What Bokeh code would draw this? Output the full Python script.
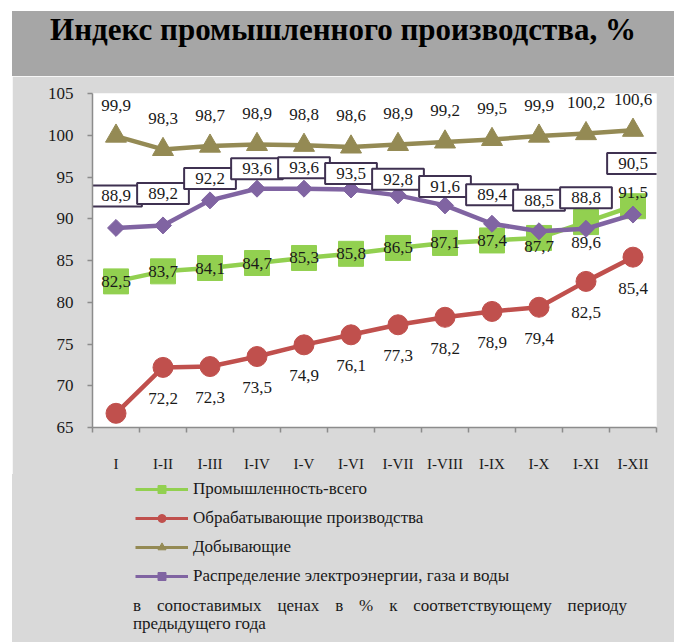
from bokeh.plotting import figure
from bokeh.models import ColumnDataSource, Range1d, FixedTicker, Legend, LegendItem, Div
from bokeh.layouts import column
from bokeh.core.properties import value
from bokeh.embed import file_html
from bokeh.resources import INLINE

# ---- data ----
categories = ["I", "I-II", "I-III", "I-IV", "I-V", "I-VI", "I-VII", "I-VIII",
              "I-IX", "I-X", "I-XI", "I-XII"]
industry_total = [82.5, 83.7, 84.1, 84.7, 85.3, 85.8, 86.5, 87.1, 87.4, 87.7, 89.6, 91.5]
manufacturing = [66.7, 72.2, 72.3, 73.5, 74.9, 76.1, 77.3, 78.2, 78.9, 79.4, 82.5, 85.4]
mining = [99.9, 98.3, 98.7, 98.9, 98.8, 98.6, 98.9, 99.2, 99.5, 99.9, 100.2, 100.6]
utilities = [88.9, 89.2, 92.2, 93.6, 93.6, 93.5, 92.8, 91.6, 89.4, 88.5, 88.8, 90.5]
y_ticks = [65, 70, 75, 80, 85, 90, 95, 100, 105]

series_names = ["Промышленность-всего", "Обрабатывающие производства",
                "Добывающие", "Распределение электроэнергии, газа и воды"]
title_text = "Индекс промышленного производства, %"
note_text = "в сопоставимых ценах в % к соответствующему периоду предыдущего года"

# ---- label placement (screen px, + = down) ----
total_dy = [0, 0, 0, 0, 0, 0, 0, 0, 0, 9, 20, -14]
manuf_dy = [31] * 12
mining_dy = [-31] * 12
util_dy = [-32, -32, -22, -20, -21, -16, -16, -19, -29, -31, -31, -51]

GREEN, RED, OLIVE, PURPLE = "#92D050", "#C0504D", "#948A54", "#8064A2"
BOX = "#3F3151"
TXT = "#1a1a1a"
BG = "#D9D9D9"
LBL_FONT = "Liberation Serif"

xs = list(range(len(categories)))
fmt = lambda v: f"{v:.1f}".replace(".", ",")


def src(vals, dy):
    return ColumnDataSource(dict(x=xs, y=vals, lbl=[fmt(v) for v in vals], dy=dy))


s_total = src(industry_total, total_dy)
s_manuf = src(manufacturing, manuf_dy)
s_mining = src(mining, mining_dy)
s_util = src(utilities, util_dy)

p = figure(width=662, height=398, output_backend="svg", toolbar_location=None,
           x_range=Range1d(-0.5, len(categories) - 0.5),
           y_range=Range1d(y_ticks[0], y_ticks[-1]),
           min_border_left=80, min_border_right=18, min_border_top=17,
           min_border_bottom=46, margin=(0, 0, 0, 12))
p.background_fill_color = "white"
p.border_fill_color = BG
p.outline_line_color = None
p.grid.visible = False

# axes
AX = "#8C8C8C"
p.yaxis.ticker = FixedTicker(ticks=y_ticks)
p.yaxis.axis_line_color = AX
p.yaxis.axis_line_width = 1.5
p.yaxis.major_tick_line_color = AX
p.yaxis.major_tick_line_width = 1.5
p.yaxis.major_tick_out = 5
p.yaxis.major_tick_in = 0
p.yaxis.minor_tick_line_color = None
p.yaxis.major_label_standoff = 14
p.yaxis.major_label_text_font = LBL_FONT
p.yaxis.major_label_text_font_size = "17px"
p.yaxis.major_label_text_color = TXT

p.xaxis.ticker = FixedTicker(ticks=xs, minor_ticks=[i - 0.5 for i in range(len(categories) + 1)])
p.xaxis.major_label_overrides = {i: c for i, c in enumerate(categories)}
p.xaxis.axis_line_color = AX
p.xaxis.axis_line_width = 1.5
p.xaxis.major_tick_line_color = None
p.xaxis.major_tick_out = 0
p.xaxis.major_tick_in = 0
p.xaxis.minor_tick_line_color = AX
p.xaxis.minor_tick_line_width = 1.5
p.xaxis.minor_tick_out = 5
p.xaxis.minor_tick_in = 0
p.xaxis.major_label_standoff = 23
p.xaxis.major_label_text_font = "Liberation Serif"
p.xaxis.major_label_text_font_size = "15px"
p.xaxis.major_label_text_color = TXT

# legend panel (separate figure so the legend is not clipped by the main frame)
pl = figure(width=662, height=123, output_backend="svg", toolbar_location=None,
            x_range=Range1d(-100, -99), y_range=Range1d(-100, -99),
            x_axis_type=None, y_axis_type=None,
            min_border_left=80, min_border_right=18, min_border_top=0,
            min_border_bottom=0, margin=(0, 0, 0, 12),
            styles={"background-color": BG})
pl.background_fill_color = BG
pl.border_fill_color = BG
pl.outline_line_color = None
pl.grid.visible = False

LW = 4.5
legend_items = []
specs = [
    (s_total, GREEN, dict(marker="square", size=25)),
    (s_manuf, RED, dict(marker="circle", size=20)),
    (s_mining, OLIVE, dict(marker="triangle", size=21)),
    (s_util, PURPLE, dict(marker="square", size=12, angle=0.785398)),
]
for (s, col, mk), name in zip(specs, series_names):
    p.line("x", "y", source=s, line_color=col, line_width=LW)
    p.scatter("x", "y", source=s, fill_color=col, line_color=col, **mk)
    ln = pl.line("x", "y", source=s, line_color=col, line_width=3)
    sc = pl.scatter("x", "y", source=s, fill_color=col, line_color=col, **mk)
    legend_items.append(LegendItem(label=name, renderers=[ln, sc]))

# data labels
common = dict(x="x", y="y", text="lbl", y_offset="dy", text_align="center",
              text_baseline="middle", text_font=value(LBL_FONT),
              text_font_size="17px", text_color=TXT)
p.text(source=s_total, **common)
p.text(source=s_manuf, **common)
p.text(source=s_mining, **common)
p.text(source=s_util, background_fill_color="white", border_line_color=BOX,
       border_line_width=2, padding={"left": 11, "right": 11, "top": 5, "bottom": 5},
       **common)

legend = Legend(items=legend_items, location=(43, 11), orientation="vertical",
                glyph_width=53, glyph_height=20, label_height=20, spacing=9,
                label_standoff=5, padding=0, margin=0,
                background_fill_alpha=0, border_line_color=None,
                label_text_font=LBL_FONT, label_text_font_size="17px",
                label_text_color=TXT)
pl.add_layout(legend)

title_div = Div(
    text=('<div style="width:662px;height:65px;background:#A6A6A6;'
          'font-family:\'Liberation Serif\',serif;font-weight:bold;font-size:31px;'
          'line-height:32px;padding-top:3px;box-sizing:border-box;text-align:center;'
          'color:#000;">' + title_text + '</div>'),
    width=662, height=65, margin=(11, 0, 0, 12))

foot_div = Div(
    text=('<div style="width:662px;height:45px;background:' + BG + ';box-sizing:border-box;'
          'padding:0 47px 0 121px;font-family:\'Liberation Serif\',serif;font-size:17px;'
          'line-height:18px;text-align:justify;color:' + TXT + ';">' + note_text + '</div>'),
    width=662, height=45, margin=(0, 0, 0, 12))

layout = column(title_div, p, pl, foot_div, spacing=0)
open("out.html", "w").write(file_html(layout, INLINE))
